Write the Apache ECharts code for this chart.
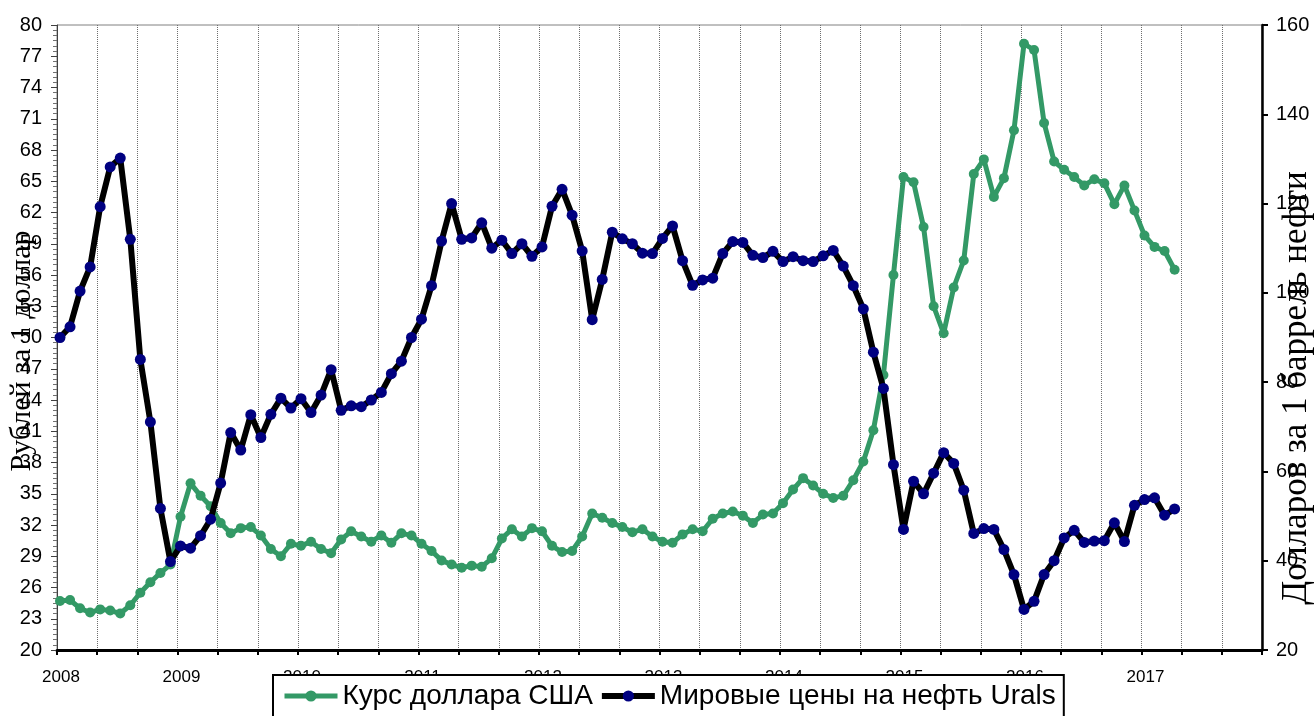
<!DOCTYPE html>
<html>
<head>
<meta charset="utf-8">
<script src="https://cdn.jsdelivr.net/npm/echarts@6/dist/echarts.min.js"></script>
<style>
html,body{margin:0;padding:0;background:#fff;}
#chart{width:1314px;height:716px;}
</style>
</head>
<body>
<div id="chart"></div>
<script>
// Tick labels for the x axis (one per year)
const yearLabels = ['2008','2009','2010','2011','2012','2013','2014','2015','2016','2017'];

// Monthly categories Jan 2008 .. Jan 2018
const months = [];
for (let y = 2008; y <= 2018; y++) {
  for (let m = 1; m <= 12; m++) {
    months.push(y + '-' + (m < 10 ? '0' + m : m));
    if (y === 2018) break;
  }
}

// Курс доллара США, руб. (Jan 2008 .. Apr 2017)
const usdRate = [
  24.7,24.8,24.0,23.6,23.9,23.8,23.5,24.3,25.5,26.5,27.4,28.2,
  32.8,36.0,34.8,33.8,32.2,31.2,31.7,31.8,31.0,29.7,29.0,30.2,
  30.0,30.4,29.7,29.3,30.6,31.4,30.9,30.4,31.0,30.3,31.2,31.0,
  30.2,29.5,28.6,28.2,27.9,28.1,28.0,28.8,30.7,31.6,30.9,31.7,
  31.4,30.0,29.4,29.5,30.9,33.1,32.7,32.2,31.8,31.3,31.6,30.9,
  30.4,30.3,31.1,31.6,31.4,32.6,33.1,33.3,32.9,32.2,33.0,33.1,
  34.1,35.4,36.5,35.8,35.0,34.6,34.8,36.3,38.1,41.1,46.4,56.0,
  65.4,64.9,60.6,53.0,50.4,54.8,57.4,65.7,67.1,63.5,65.3,69.9,
  78.2,77.6,70.6,66.9,66.1,65.4,64.6,65.2,64.8,62.8,64.6,62.2,
  59.8,58.7,58.3,56.5
];

// Мировые цены на нефть Urals, долл./барр. (Jan 2008 .. Apr 2017)
const oilPrice = [
  90.0,92.4,100.4,105.8,119.3,128.2,130.2,112.0,85.1,71.1,51.7,39.8,
  43.3,42.8,45.6,49.3,57.4,68.7,64.8,72.7,67.6,72.8,76.4,74.2,
  76.3,73.2,77.1,82.8,73.7,74.7,74.5,76.0,77.7,81.9,84.7,90.0,
  94.1,101.6,111.6,120.0,112.0,112.3,115.7,110.0,111.8,108.8,111.0,108.2,
  110.3,119.4,123.2,117.4,109.4,94.0,103.0,113.6,112.1,111.0,108.9,108.8,
  112.2,115.0,107.2,101.7,102.9,103.3,108.8,111.5,111.3,108.4,107.9,109.3,
  107.0,108.1,107.2,107.0,108.3,109.5,106.0,101.6,96.4,86.7,78.6,61.5,
  47.0,57.8,55.0,59.6,64.2,61.8,55.8,46.1,47.2,47.0,42.5,36.9,
  29.1,30.9,36.9,40.0,45.1,46.8,44.1,44.4,44.5,48.5,44.3,52.4,
  53.7,54.1,50.2,51.6
];

const seriesNames = ['Курс доллара США', 'Мировые цены на нефть Urals'];
const leftTitle = 'Рублей за 1 доллар';
const rightTitle = 'Долларов за 1 баррель нефти';

const GREEN = '#339966';
const NAVY = '#000080';

const chart = echarts.init(document.getElementById('chart'), null, {renderer: 'canvas'});
const SANS = '"Liberation Sans", Arial, sans-serif';
const SERIF = '"Liberation Serif", "Times New Roman", serif';

const option = {
  animation: false,
  textStyle: {fontFamily: SANS},
  grid: [
    {left: 57, right: 52, top: 25, bottom: 66, show: true, borderColor: '#808080', borderWidth: 1, backgroundColor: 'transparent'},
    {left: 60, right: 49, top: 25, bottom: 66}
  ],
  xAxis: [
    {
      gridIndex: 0, type: 'value', min: 0, max: 120, interval: 4,
      axisLine: {show: true, lineStyle: {color: '#000', width: 3}},
      axisTick: {show: true, length: 5, lineStyle: {color: '#000', width: 2}},
      splitLine: {show: true, lineStyle: {color: '#6e6e6e', width: 1, type: [1, 1]}},
      axisLabel: {
        fontSize: 17, color: '#000', margin: 19, padding: [0, 0, 0, 8], fontFamily: SANS,
        formatter: function (v) {
          const k = v / 12;
          return (v % 12 === 0 && k < yearLabels.length) ? yearLabels[k] : '';
        }
      }
    },
    {gridIndex: 1, type: 'category', data: months, boundaryGap: false, show: false}
  ],
  yAxis: [
    {
      gridIndex: 0, type: 'value', position: 'left', min: 20, max: 80, interval: 3,
      axisLine: {show: true, lineStyle: {color: '#404040', width: 1}},
      axisTick: {show: true, length: 6, lineStyle: {color: '#404040'}},
      minorTick: {show: true, splitNumber: 6, length: 4, lineStyle: {color: '#707070'}},
      splitLine: {show: false},
      axisLabel: {fontSize: 20, color: '#000', margin: 15, fontFamily: SANS}
    },
    {
      gridIndex: 0, type: 'value', position: 'right', min: 20, max: 160, interval: 20,
      axisLine: {show: true, lineStyle: {color: '#000', width: 2.5}},
      axisTick: {show: true, length: 6, lineStyle: {color: '#000', width: 2}},
      splitLine: {show: false},
      axisLabel: {fontSize: 20, color: '#000', margin: 14, fontFamily: SANS}
    },
    {gridIndex: 1, type: 'value', min: 20, max: 80, show: false, splitLine: {show: false}},
    {gridIndex: 1, type: 'value', min: 20, max: 160, show: false, splitLine: {show: false}}
  ],
  legend: {
    left: 273, top: 675, orient: 'horizontal',
    itemWidth: 53, itemHeight: 14, itemGap: 6,
    padding: [7, 8, 12, 9],
    borderColor: '#000', borderWidth: 2, borderRadius: 0, backgroundColor: '#fff',
    textStyle: {fontSize: 28, color: '#000', fontFamily: SANS},
    data: [
      {name: seriesNames[0], lineStyle: {color: GREEN, width: 5}, itemStyle: {color: GREEN}},
      {name: seriesNames[1], lineStyle: {color: '#000', width: 6}, itemStyle: {color: NAVY}}
    ]
  },
  series: [
    {
      name: seriesNames[0], type: 'line', xAxisIndex: 1, yAxisIndex: 2, data: usdRate,
      symbol: 'circle', symbolSize: 10, showAllSymbol: true,
      lineStyle: {color: GREEN, width: 5}, itemStyle: {color: GREEN}, z: 2
    },
    {
      name: seriesNames[1], type: 'line', xAxisIndex: 1, yAxisIndex: 3, data: oilPrice,
      symbol: 'circle', symbolSize: 11, showAllSymbol: true,
      lineStyle: {color: '#000', width: 6}, itemStyle: {color: NAVY}, z: 3
    }
  ],
  graphic: [
    {type: 'text', x: 22, y: 351, rotation: Math.PI / 2,
     style: {text: leftTitle, font: '30px ' + SERIF, fill: '#000', align: 'center', verticalAlign: 'middle'}},
    {type: 'text', x: 1297, y: 388, rotation: Math.PI / 2,
     style: {text: rightTitle, font: '35px ' + SERIF, fill: '#000', align: 'center', verticalAlign: 'middle'}}
  ]
};
chart.setOption(option);
</script>
</body>
</html>
